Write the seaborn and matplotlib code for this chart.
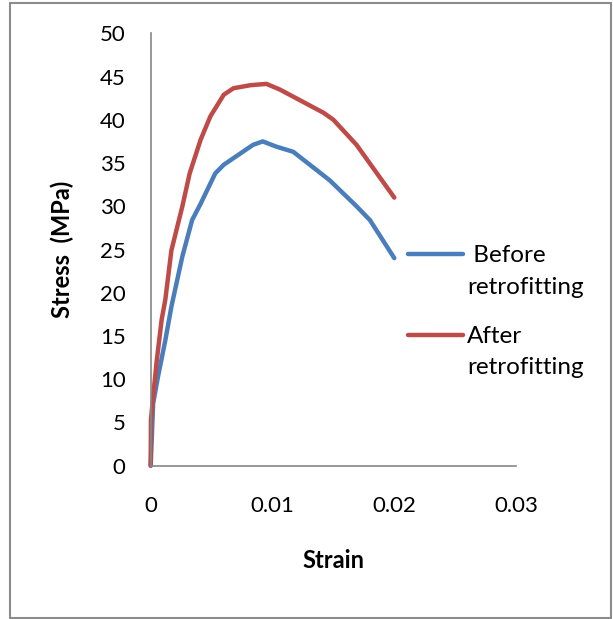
import matplotlib
matplotlib.use("Agg")
import matplotlib.pyplot as plt
import pandas as pd
import seaborn as sns
from matplotlib.lines import Line2D
from matplotlib.patches import Rectangle

# Stress-strain curves of the specimen before and after retrofitting
before_strain = [0, 0.0002, 0.0006, 0.0012, 0.0017, 0.0026, 0.0034, 0.0041,
                 0.0053, 0.0060, 0.0084, 0.0092, 0.0103, 0.0117, 0.0147,
                 0.0169, 0.0180, 0.0200]
before_stress = [0, 7.2, 10.3, 14.5, 18.4, 24.2, 28.4, 30.3,
                 33.8, 34.8, 37.1, 37.5, 36.9, 36.3, 33.0,
                 30.0, 28.4, 24.0]

after_strain = [0, 0.00002, 0.0002, 0.0005, 0.0009, 0.0012, 0.0017, 0.0026,
                0.0032, 0.0041, 0.0049, 0.0060, 0.0068, 0.0082, 0.0095,
                0.0106, 0.0142, 0.0150, 0.0169, 0.0200]
after_stress = [0, 5.3, 8.0, 12.2, 16.9, 19.2, 24.9, 30.0,
                33.8, 37.7, 40.4, 42.9, 43.65, 44.0, 44.15,
                43.5, 40.8, 40.0, 37.1, 31.0]

series_names = ["Before retrofitting", "After retrofitting"]
legend_lines = [[" Before", "retrofitting"], ["After", "retrofitting"]]
series_colors = ["#4A7EBB", "#BE4B48"]

x_ticks = [0, 0.01, 0.02, 0.03]
x_tick_labels = ["0", "0.01", "0.02", "0.03"]
y_ticks = [0, 5, 10, 15, 20, 25, 30, 35, 40, 45, 50]

sns.set_theme(style="white")
plt.rcParams["font.family"] = ["Lato", "DejaVu Sans"]

df = pd.concat([
    pd.DataFrame({"Strain": before_strain, "Stress": before_stress,
                  "Series": series_names[0]}),
    pd.DataFrame({"Strain": after_strain, "Stress": after_stress,
                  "Series": series_names[1]}),
], ignore_index=True)

W, H = 613, 619
fig = plt.figure(figsize=(W / 100, H / 100), dpi=100)
fig.patch.set_facecolor("white")

# plot area in pixels: x from 150.7 to 516, y from 33.3 to 465.7
ax_left, ax_right, ax_top, ax_bottom = 150.7, 516.1, 33.3, 465.7
ax = fig.add_axes([ax_left / W, 1 - ax_bottom / H,
                   (ax_right - ax_left) / W, (ax_bottom - ax_top) / H])
ax.set_facecolor("white")

palette = dict(zip(series_names, series_colors))
sns.lineplot(data=df, x="Strain", y="Stress", hue="Series",
             hue_order=series_names, palette=palette, sort=False,
             estimator=None, linewidth=3.2, legend=False, ax=ax)
for line in ax.lines:
    line.set_solid_capstyle("round")
    line.set_solid_joinstyle("round")
    line.set_clip_on(False)

ax.set_xlim(0, 0.03)
ax.set_ylim(0, 50)
ax.set_xticks(x_ticks)
ax.set_xticklabels(x_tick_labels)
ax.set_yticks(y_ticks)
ax.set_yticklabels([str(v) for v in y_ticks])

axis_grey = "#868686"
for side in ["top", "right"]:
    ax.spines[side].set_visible(False)
for side in ["left", "bottom"]:
    ax.spines[side].set_color(axis_grey)
    ax.spines[side].set_linewidth(1.2)
ax.tick_params(axis="both", which="major", direction="out", length=5.5,
               width=1.2, color=axis_grey, labelsize=16, labelcolor="black")
ax.tick_params(axis="x", pad=16.5)
ax.tick_params(axis="y", pad=12.5)
ax.grid(False)

ax.set_xlabel("Strain", fontsize=17, fontweight="bold", color="black")
ax.set_ylabel("Stress  (MPa)", fontsize=17, fontweight="bold", color="black")
ax.xaxis.label.set_va("center")
ax.yaxis.label.set_va("center")
ax.xaxis.set_label_coords(0.5, (ax_bottom - 561) / (ax_bottom - ax_top))
ax.yaxis.set_label_coords((62 - ax_left) / (ax_right - ax_left), 0.5)

# legend to the right of the plot area, labels wrapped over two lines
legend_handle_y = [254, 335]
for name, color, lines, hy in zip(series_names, series_colors,
                                  legend_lines, legend_handle_y):
    fig.add_artist(Line2D([408 / W, 463 / W], [1 - hy / H, 1 - hy / H],
                          transform=fig.transFigure, color=color,
                          linewidth=3.2, solid_capstyle="round"))
    base = hy + 8
    for k, txt in enumerate(lines):
        fig.text(467 / W, 1 - (base + 31.5 * k) / H, txt, fontsize=17.5,
                 ha="left", va="baseline", color="black")

# thin grey frame around the whole chart
fig.add_artist(Rectangle((10 / W, 1 - 617.5 / H), (611 - 10) / W,
                         (617.5 - 2.7) / H, transform=fig.transFigure,
                         fill=False, edgecolor="#8c8c8c", linewidth=1.5))

fig.savefig("out.png", dpi=100, facecolor="white")
